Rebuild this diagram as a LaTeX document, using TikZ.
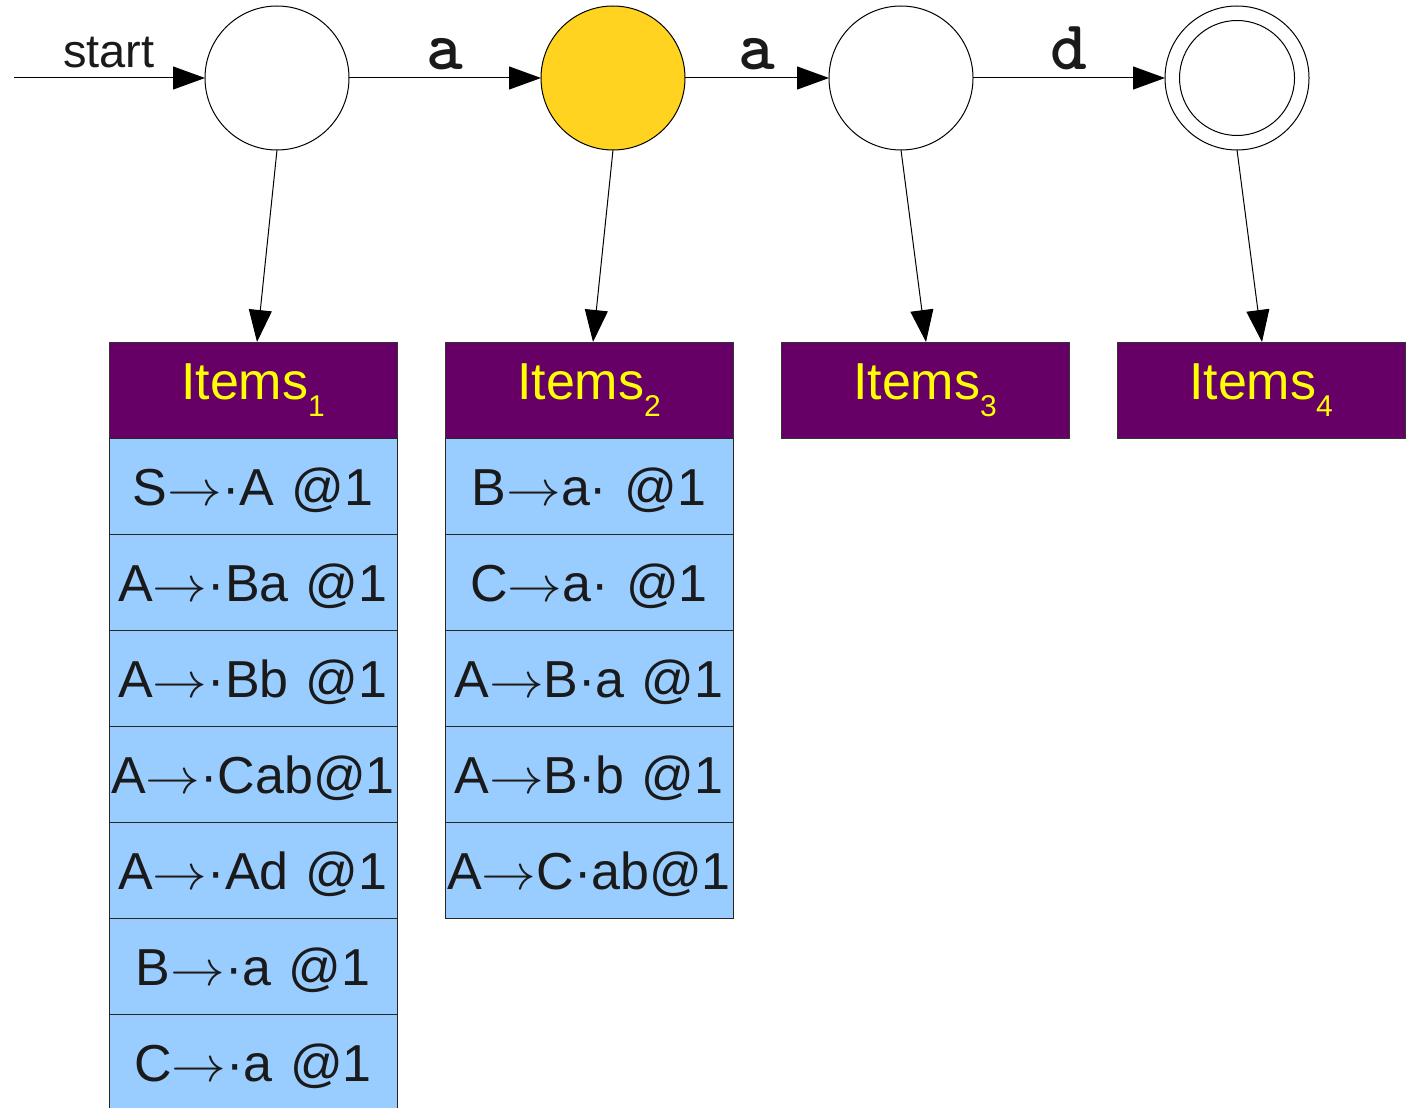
\documentclass[tikz,border=0pt]{standalone}
\usepackage{fontspec}
\setmainfont{Liberation Sans}
\usetikzlibrary{arrows.meta}
\definecolor{stategold}{HTML}{FFD320}
\definecolor{hdrpurple}{HTML}{660066}
\definecolor{itemyellow}{HTML}{FFFF00}
\definecolor{rowblue}{HTML}{99CCFF}
\definecolor{ink}{HTML}{1A1A1A}
\begin{document}
\begin{tikzpicture}[x=0.5pt,y=-0.5pt,
  state/.style={circle,draw,line width=0.5pt,minimum size=72pt,inner sep=0pt,outer sep=0pt},
  arr/.style={-{Triangle[length=16pt,width=11.5pt]},line width=0.5pt},
  hdr/.style={rectangle,draw=black!80,line width=0.5pt,fill=hdrpurple,text=itemyellow,
    minimum width=144pt,minimum height=48pt,inner sep=0pt,outer sep=0pt,
    font=\fontsize{26}{26}\selectfont},
  itemrow/.style={rectangle,draw=black!85,line width=0.5pt,fill=rowblue,text=ink,
    minimum width=144pt,minimum height=48pt,inner sep=0pt,outer sep=0pt,
    text width=144pt,align=center,
    font=\fontsize{26}{26}\selectfont,text height=19pt,text depth=0pt},
  lbl/.style={font=\ttfamily\bfseries\fontsize{35}{35}\selectfont,text=ink,anchor=base,inner sep=0pt,yshift=4pt},
  startlbl/.style={font=\fontsize{23.5}{23.5}\selectfont,text=ink,anchor=base,inner sep=0pt}]
\newcommand{\itemsub}[1]{Items\raisebox{-8.5pt}{\fontsize{15}{15}\selectfont #1}}
\newcommand{\ar}{\scalebox{1.1}[1]{$\rightarrow$}}
\useasboundingbox (0,0) rectangle (1406,1107);

% states
\node[state] (c1) at (277,78) {};
\node[state,fill=stategold] (c2) at (613,78) {};
\node[state] (c3) at (901,78) {};
\node[state] (c4) at (1237,78) {};
\node[circle,draw,line width=0.5pt,minimum size=57.5pt,inner sep=0pt] (c4i) at (1237,78) {};

% start
\coordinate (s0) at (14,78);
\node[startlbl] (startl) at (109,68) {start};
\draw[arr] (s0) -- (c1.west);

% transitions
\draw[arr] (c1.east) -- (c2.west) node[lbl,midway] (la1) {a};
\draw[arr] (c2.east) -- (c3.west) node[lbl,midway] (la2) {a};
\draw[arr] (c3.east) -- (c4.west) node[lbl,midway] (ld) {d};

% headers
\node[hdr] (h1) at (253,390) {\itemsub{1}};
\node[hdr] (h2) at (589,390) {\itemsub{2}};
\node[hdr] (h3) at (925,390) {\itemsub{3}};
\node[hdr] (h4) at (1261,390) {\itemsub{4}};

% items 1
\node[itemrow] (r11) at (253,486) {S\ar·A @1};
\node[itemrow] (r12) at (253,582) {A\ar·Ba @1};
\node[itemrow] (r13) at (253,678) {A\ar·Bb @1};
\node[itemrow] (r14) at (253,774) {A\ar·Cab@1};
\node[itemrow] (r15) at (253,870) {A\ar·Ad @1};
\node[itemrow] (r16) at (253,966) {B\ar·a @1};
\node[itemrow] (r17) at (253,1062) {C\ar·a @1};

% items 2
\node[itemrow] (r21) at (589,486) {B\ar a· @1};
\node[itemrow] (r22) at (589,582) {C\ar a· @1};
\node[itemrow] (r23) at (589,678) {A\ar B·a @1};
\node[itemrow] (r24) at (589,774) {A\ar B·b @1};
\node[itemrow] (r25) at (589,870) {A\ar C·ab@1};

% state -> items
\draw[arr] (c1.south) -- ([xshift=2pt]h1.north);
\draw[arr] (c2.south) -- ([xshift=2pt]h2.north);
\draw[arr] (c3.south) -- ([xshift=0.5pt]h3.north);
\draw[arr] (c4.south) -- ([xshift=0.5pt]h4.north);
\end{tikzpicture}
\end{document}
